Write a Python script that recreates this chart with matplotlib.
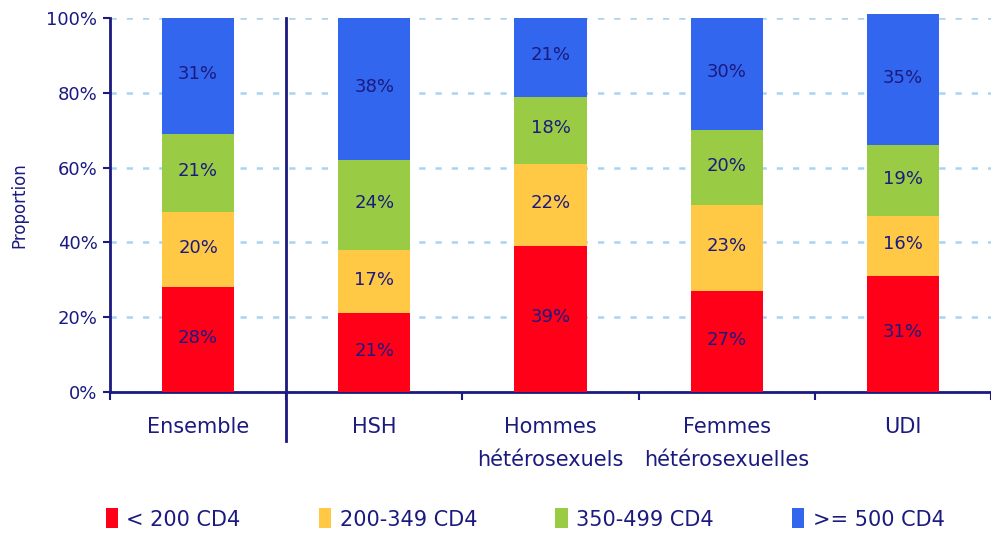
import matplotlib.pyplot as plt
import numpy as np

groups = ['Ensemble', 'HSH', 'Hommes\nhétérosexuels', 'Femmes\nhétérosexuelles', 'UDI']
lt200 = [28, 21, 39, 27, 31]
c200_349 = [20, 17, 22, 23, 16]
c350_499 = [21, 24, 18, 20, 19]
ge500 = [31, 38, 21, 30, 35]
series_names = ['< 200 CD4', '200-349 CD4', '350-499 CD4', '>= 500 CD4']
colors = ['#FF0018', '#FFC845', '#99CC44', '#3366EE']
navy = '#1a1a80'

plt.rcParams['font.family'] = ['DejaVu Sans']

fig = plt.figure(figsize=(9.91, 5.34), dpi=100)
ax = fig.add_axes([110/991, 1-392/534, 881/991, 374/534])

x = np.arange(len(groups))
bottom = np.zeros(len(groups))
for vals, name, col in zip([lt200, c200_349, c350_499, ge500], series_names, colors):
    vals = np.array(vals)
    ax.bar(x, vals, 0.41, bottom=bottom, color=col, label=name, clip_on=False, zorder=3)
    for xi, b, v in zip(x, bottom, vals):
        ax.text(xi, b + v/2 + 0.5, f'{v}%', ha='center', va='center', color=navy, fontsize=13, zorder=4)
    bottom += vals

ax.set_xlim(-0.5, len(groups) - 0.5)
ax.set_ylim(0, 100)
ax.set_yticks([0, 20, 40, 60, 80, 100])
ax.set_yticklabels([f'{v}%' for v in [0, 20, 40, 60, 80, 100]])
ax.yaxis.grid(True, color='#A8D4F2', linestyle=(0, (2.5, 4)), linewidth=1.8, zorder=0)
ax.set_axisbelow(True)

ax.set_xticks(x)
ax.set_xticklabels(groups, linespacing=1.8)
ax.tick_params(axis='x', which='major', length=0, pad=18, labelsize=15, labelcolor=navy)
ax.set_xticks(np.arange(len(groups) + 1) - 0.5, minor=True)
ax.tick_params(axis='x', which='minor', length=6, color=navy, width=1.5)
ax.tick_params(axis='y', length=5, color=navy, width=1.5, labelsize=13, labelcolor=navy, pad=4)

for s in ['top', 'right']:
    ax.spines[s].set_visible(False)
for s in ['left', 'bottom']:
    ax.spines[s].set_color(navy)
    ax.spines[s].set_linewidth(2)

ax.set_ylabel('Proportion', color=navy, fontsize=12, labelpad=13)

# separation between Ensemble and the groups
ax.plot([0.5, 0.5], [-13, 100], color=navy, linewidth=2, clip_on=False, zorder=5)

fig.legend(loc='center', bbox_to_anchor=(525/991, 1-519/534), ncol=4, frameon=False,
           fontsize=15, labelcolor=navy, handlelength=0.6, handleheight=1.1,
           handletextpad=0.4, columnspacing=3.75)

fig.savefig('out.png', dpi=100)
